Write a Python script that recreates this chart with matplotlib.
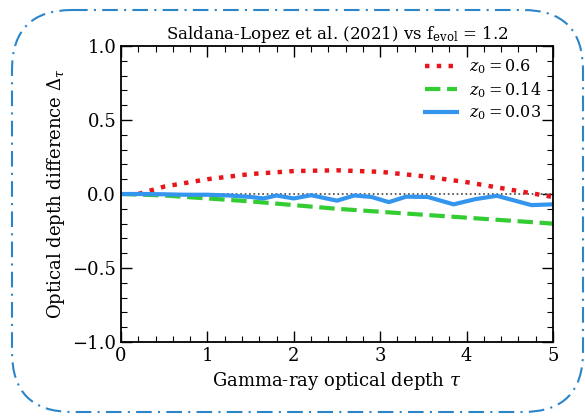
import matplotlib
matplotlib.use("Agg")
import matplotlib.pyplot as plt
from matplotlib.patches import FancyBboxPatch
from matplotlib.ticker import MultipleLocator

plt.rcParams['font.family'] = ['DejaVu Serif']
plt.rcParams['mathtext.fontset'] = 'dejavuserif'

# Data
x_red = [0.2, 0.5, 1.0, 1.5, 2.0, 2.5, 3.0, 3.5, 4.0, 4.5, 5.0]
y_red = [0.0, 0.05, 0.10, 0.135, 0.155, 0.16, 0.15, 0.12, 0.08, 0.03, -0.02]

x_green = [0.0, 0.5, 1.0, 1.5, 2.0, 2.5, 3.0, 3.5, 4.0, 4.5, 5.0]
y_green = [0.0, -0.01, -0.03, -0.05, -0.075, -0.10, -0.12, -0.14, -0.16, -0.18, -0.20]

x_blue = [0.0, 0.25, 0.5, 0.75, 1.0, 1.25, 1.5, 1.65, 1.8, 2.0, 2.2, 2.5, 2.7,
          2.9, 3.1, 3.3, 3.55, 3.85, 4.1, 4.35, 4.75, 5.0]
y_blue = [0.0, 0.0, -0.002, -0.005, -0.005, -0.01, -0.02, -0.03, -0.01, -0.03,
          -0.008, -0.045, -0.01, -0.02, -0.055, -0.018, -0.02, -0.07, -0.035,
          -0.012, -0.075, -0.07]

labels = [r'$z_0 = 0.6$', r'$z_0 = 0.14$', r'$z_0 = 0.03$']
title = r'Saldana-Lopez et al. (2021) vs f$_{\rm evol}$ = 1.2'

fig = plt.figure(figsize=(5.85, 4.16), dpi=100)

# Rounded dash-dot frame
bg = fig.add_axes([0, 0, 1, 1])
bg.set_xlim(0, 585)
bg.set_ylim(416, 0)
bg.axis('off')
frame = FancyBboxPatch((12, 10), 571, 402, boxstyle="round,pad=0,rounding_size=60",
                       fill=False, edgecolor='#2a86c8', linewidth=1.5,
                       linestyle=(0, (7.5, 3.0, 1.0, 3.0)))
bg.add_patch(frame)

ax = fig.add_axes([121/585, 1-342/416, (553-121)/585, (342-46)/416])
ax.plot([0, 5], [0, 0], color='#444444', linestyle=':', linewidth=1.2)
ax.plot(x_red, y_red, color='#e8151b', linestyle=':', linewidth=3.2, label=labels[0])
ax.plot(x_green, y_green, color='#33cc33', linestyle='--', linewidth=3.0, label=labels[1])
ax.plot(x_blue, y_blue, color='#3395ee', linestyle='-', linewidth=3.0, label=labels[2])

ax.set_xlim(0, 5)
ax.set_ylim(-1, 1)
ax.xaxis.set_major_locator(MultipleLocator(1))
ax.xaxis.set_minor_locator(MultipleLocator(0.2))
ax.yaxis.set_major_locator(MultipleLocator(0.5))
ax.yaxis.set_minor_locator(MultipleLocator(0.1))
ax.tick_params(which='both', direction='in', top=True, right=True, labelsize=13)
ax.tick_params(which='major', length=8, width=1)
ax.tick_params(which='minor', length=4.5, width=0.8)
for s in ax.spines.values():
    s.set_linewidth(1.3)

ax.set_xlabel(r'Gamma-ray optical depth $\tau$', fontsize=13)
ax.set_ylabel(r'Optical depth difference $\Delta_\tau$', fontsize=13)
ax.set_title(title, fontsize=12, pad=5)
ax.legend(loc='upper right', frameon=False, fontsize=11.5, handlelength=2.0,
          labelspacing=0.25, borderaxespad=0.3)

fig.savefig('out.png', dpi=100)
